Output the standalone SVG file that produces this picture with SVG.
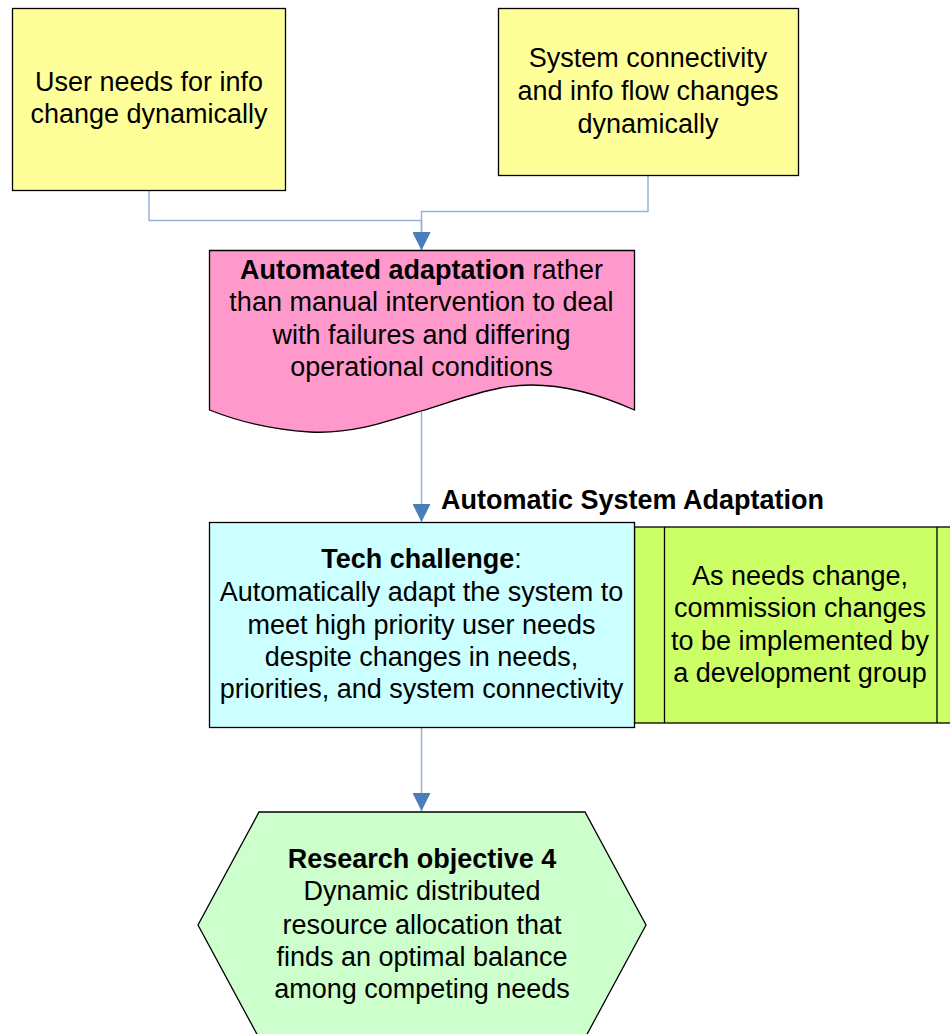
<svg xmlns="http://www.w3.org/2000/svg" width="950" height="1034" viewBox="0 0 950 1034">
<style>
text{font-family:"Liberation Sans",Arial,sans-serif;font-size:27px;fill:#000;text-anchor:middle}
.b{font-weight:bold}
.shape{stroke:#000;stroke-width:1.3}
.conn{fill:none;stroke:#95B3D7;stroke-width:1.5}
</style>
<defs>
<marker id="arr" markerWidth="18" markerHeight="18" refX="18" refY="9" orient="auto" markerUnits="userSpaceOnUse">
<path d="M0,0 L18,9 L0,18 Z" fill="#4A7EBB"/>
</marker>
</defs>
<rect width="950" height="1034" fill="#fff"/>
<g id="connectors">
<path class="conn" d="M149,190 V220.5 H421.5 V250" marker-end="url(#arr)"/>
<path class="conn" d="M648,175 V211.5 H421.5 V250" marker-end="url(#arr)"/>
<path class="conn" d="M421.5,410 V522" marker-end="url(#arr)"/>
<path class="conn" d="M421.5,727 V811" marker-end="url(#arr)"/>
</g>
<g id="user-needs">
<rect class="shape" x="12.5" y="8.5" width="273" height="182" fill="#FFFF99"/>
<text x="149" y="91">User needs for info</text>
<text x="149" y="123">change dynamically</text>
</g>
<g id="system-connectivity">
<rect class="shape" x="498.5" y="8.5" width="300" height="167" fill="#FFFF99"/>
<text x="648" y="67">System connectivity</text>
<text x="648" y="100">and info flow changes</text>
<text x="648" y="133">dynamically</text>
</g>
<g id="automated-adaptation">
<path class="shape" fill="#FF99CC" d="M209.5,250.5 H634.5 V410 C585,388 540,380 500,388 C470,394 445,404 421,411 C380,424 350,434 310,432 C275,430 245,424 209.5,410 Z"/>
<text x="421.5" y="279"><tspan class="b">Automated adaptation</tspan> rather</text>
<text x="421.5" y="311">than manual intervention to deal</text>
<text x="421.5" y="344">with failures and differing</text>
<text x="421.5" y="376">operational conditions</text>
</g>
<g id="label-asa">
<text class="b" x="441" y="509" style="text-anchor:start">Automatic System Adaptation</text>
</g>
<g id="development-group">
<rect class="shape" x="634.5" y="527" width="332" height="196" fill="#CCFF66"/>
<line class="shape" x1="664.5" y1="527" x2="664.5" y2="723"/>
<line class="shape" x1="937" y1="527" x2="937" y2="723"/>
<text x="800" y="585">As needs change,</text>
<text x="800" y="617">commission changes</text>
<text x="800" y="650">to be implemented by</text>
<text x="800" y="682">a development group</text>
</g>
<g id="tech-challenge">
<rect class="shape" x="209.5" y="522.5" width="425" height="205" fill="#CCFFFF"/>
<text x="421.5" y="568"><tspan class="b">Tech challenge</tspan>:</text>
<text x="421.5" y="601">Automatically adapt the system to</text>
<text x="421.5" y="634">meet high priority user needs</text>
<text x="421.5" y="666">despite changes in needs,</text>
<text x="421.5" y="698">priorities, and system connectivity</text>
</g>
<g id="research-objective">
<path class="shape" fill="#CCFFCC" d="M259,812 H585 L646,925 L585,1038 H259 L198,925 Z"/>
<text class="b" x="422" y="868">Research objective 4</text>
<text x="422" y="900">Dynamic distributed</text>
<text x="422" y="934">resource allocation that</text>
<text x="422" y="966">finds an optimal balance</text>
<text x="422" y="998">among competing needs</text>
</g>
</svg>
